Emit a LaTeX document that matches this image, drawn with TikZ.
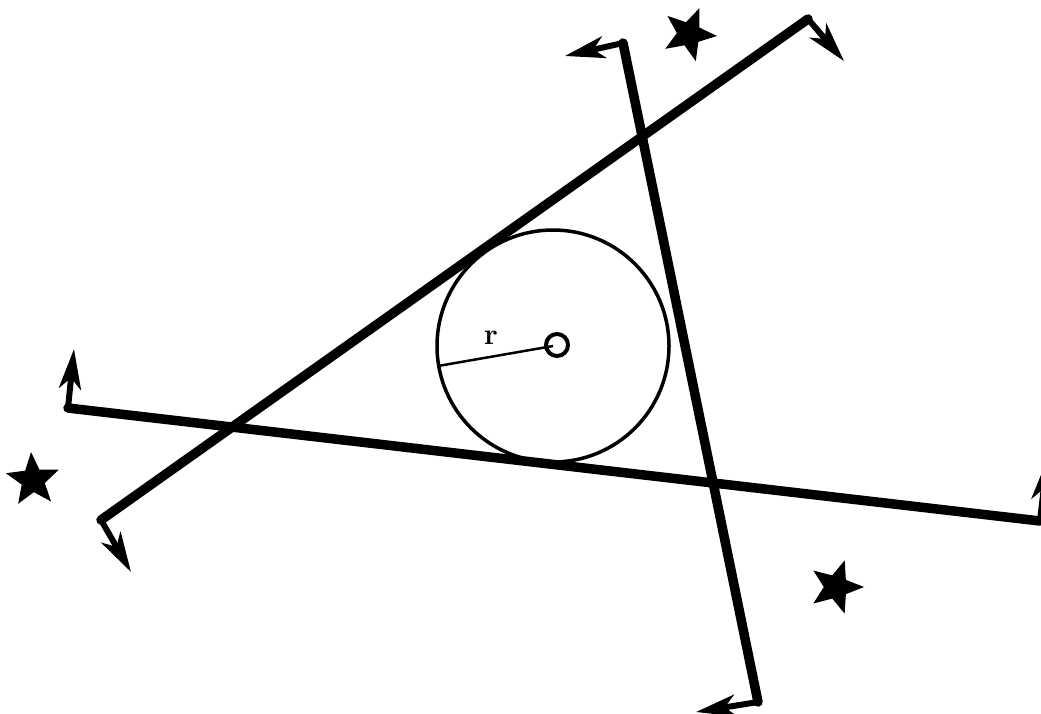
\documentclass[tikz,border=0pt]{standalone}
\usetikzlibrary{arrows.meta,shapes.geometric}
\begin{document}
\begin{tikzpicture}[x=1pt,y=-1pt,
  bigline/.style={line width=9.5pt,line cap=round},
  hook/.style={line width=6pt,-{Stealth[length=40pt,width=22pt,inset=11pt]}},
  starmark/.style={star,star points=5,star point ratio=2.3,fill=black,draw=none,minimum size=56pt,inner sep=0pt}]
\useasboundingbox (0,0) rectangle (1041,713);
\clip (0,0) rectangle (1041,713);
% corners
\coordinate (A1) at (101,520);
\coordinate (A2) at (808,19);
\coordinate (A1t) at (131,572);
\coordinate (A2t) at (844,61);
\coordinate (B1) at (623,43);
\coordinate (B2) at (758,702);
\coordinate (B1t) at (565,56);
\coordinate (B2t) at (696,712);
\coordinate (C1) at (68,408);
\coordinate (C2) at (1040,521);
\coordinate (C1t) at (74,349);
\coordinate (C2t) at (1047,460);
% lines
\draw[bigline] (A1) -- (A2);
\draw[bigline] (B1) -- (B2);
\draw[bigline] (C1) -- (C2);
\draw[hook] (A1) -- (A1t);
\draw[hook] (A2) -- (A2t);
\draw[hook] (B1) -- (B1t);
\draw[hook] (B2) -- (B2t);
\draw[hook] (C1) -- (C1t);
\draw[hook] (C2) -- (C2t);
% incircle
\coordinate (O) at (553,346);
\draw[line width=3.5pt] (O) circle[radius=116];
\draw[line width=4pt] (557,345) circle[radius=11];
\coordinate (R) at (438,366);
\draw[line width=2.5pt] (O) -- (R);
\node[font=\fontsize{30}{30}\selectfont\bfseries] (rl) at (491,338) {r};
% stars
\node[starmark,rotate=4] (s1) at (33,480) {};
\node[starmark,rotate=-22] (s2) at (689,34) {};
\node[starmark,rotate=-18] (s3) at (836,587) {};
\end{tikzpicture}
\end{document}
